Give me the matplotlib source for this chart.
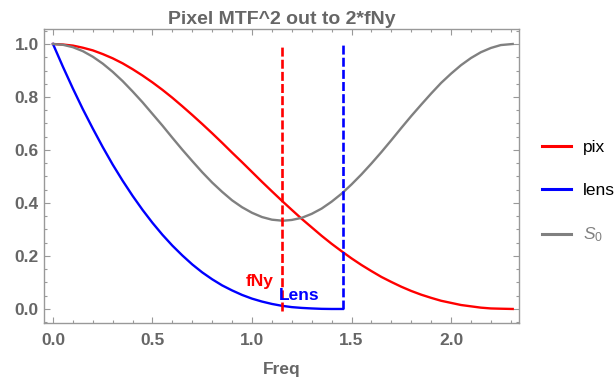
import matplotlib
matplotlib.use("Agg")
import matplotlib.pyplot as plt

plt.rcParams['font.family'] = ['Liberation Sans', 'DejaVu Sans']
plt.rcParams['mathtext.fontset'] = 'custom'
plt.rcParams['mathtext.rm'] = 'Liberation Sans'
plt.rcParams['mathtext.it'] = 'Liberation Sans:italic'

# values
freq = [0.0, 0.05, 0.1, 0.15, 0.2, 0.25, 0.3, 0.35, 0.4, 0.45, 0.5, 0.55, 0.6,
        0.65, 0.7, 0.75, 0.8, 0.85, 0.9, 0.95, 1.0, 1.05, 1.1, 1.155, 1.2, 1.25,
        1.3, 1.35, 1.4, 1.45, 1.5, 1.55, 1.6, 1.65, 1.7, 1.75, 1.8, 1.85, 1.9,
        1.95, 2.0, 2.05, 2.1, 2.15, 2.2, 2.25, 2.31]
pix = [1.0, 0.998, 0.994, 0.986, 0.976, 0.962, 0.946, 0.927, 0.905, 0.881, 0.855,
       0.827, 0.797, 0.765, 0.732, 0.698, 0.663, 0.627, 0.590, 0.554, 0.517, 0.480,
       0.444, 0.405, 0.374, 0.340, 0.308, 0.276, 0.246, 0.218, 0.191, 0.166, 0.143,
       0.121, 0.102, 0.084, 0.068, 0.054, 0.042, 0.031, 0.023, 0.015, 0.010, 0.005,
       0.002, 0.001, 0.0]
s0 = [1.0, 0.997, 0.988, 0.973, 0.952, 0.926, 0.895, 0.860, 0.821, 0.780, 0.736,
      0.692, 0.646, 0.601, 0.558, 0.516, 0.477, 0.442, 0.410, 0.384, 0.363, 0.347,
      0.337, 0.333, 0.336, 0.344, 0.359, 0.379, 0.405, 0.435, 0.470, 0.508, 0.549,
      0.592, 0.637, 0.683, 0.728, 0.771, 0.813, 0.853, 0.888, 0.920, 0.947, 0.969,
      0.985, 0.996, 1.0]

lens_freq = [0.0, 0.05, 0.1, 0.15, 0.2, 0.25, 0.3, 0.35, 0.4, 0.45, 0.5, 0.55, 0.6,
             0.65, 0.7, 0.75, 0.8, 0.85, 0.9, 0.95, 1.0, 1.05, 1.1, 1.15, 1.2, 1.25,
             1.3, 1.35, 1.4, 1.456]
lens = [1.0, 0.914, 0.832, 0.754, 0.681, 0.611, 0.545, 0.484, 0.427, 0.374, 0.325,
        0.280, 0.239, 0.202, 0.168, 0.138, 0.112, 0.089, 0.070, 0.053, 0.039, 0.028,
        0.019, 0.012, 0.007, 0.004, 0.002, 0.0005, 0.0, 0.0]

f_ny = 1.153
f_lens = 1.456

GRAY_TXT = '#666666'
FRAME = '#999999'

fig = plt.figure(figsize=(6.16, 3.85), dpi=100)
ax = fig.add_axes([0.0719, 0.1603, 0.843 - 0.0719, 0.9239 - 0.1603])

l_pix, = ax.plot(freq, pix, color='#ff0000', lw=1.7, label='pix')
l_lens, = ax.plot(lens_freq, lens, color='#0000ff', lw=1.7, label='lens')
l_s0, = ax.plot(freq, s0, color='#808080', lw=1.7, label='$S_0$')

ax.plot([f_ny, f_ny], [-0.008, 1.0], color='#ff0000', lw=1.9,
        linestyle=(0, (3.4, 1.2)), zorder=3)
ax.plot([f_lens, f_lens], [0.0, 1.0], color='#0000ff', lw=1.9,
        linestyle=(0, (3.4, 1.2)), zorder=3)

ax.text(1.111, 0.104, 'fNy', color='#ff0000', fontsize=12.5, fontweight='bold',
        ha='right', va='center', zorder=4)
ax.text(1.136, 0.049, 'Lens', color='#0000ff', fontsize=12.5, fontweight='bold',
        ha='left', va='center', zorder=4)

ax.set_xlim(-0.0437, 2.343)
ax.set_ylim(-0.054, 1.0555)
ax.set_xticks([0.0, 0.5, 1.0, 1.5, 2.0])
ax.set_xticks([i / 10 for i in range(0, 24)], minor=True)
ax.set_yticks([0.0, 0.2, 0.4, 0.6, 0.8, 1.0])
ax.set_yticks([i / 20 for i in range(-1, 22)], minor=True)
ax.set_xticklabels(['0.0', '0.5', '1.0', '1.5', '2.0'])
ax.set_yticklabels(['0.0', '0.2', '0.4', '0.6', '0.8', '1.0'])

for sp in ax.spines.values():
    sp.set_color(FRAME)
    sp.set_linewidth(1.0)
ax.tick_params(which='both', direction='in', top=True, right=True, color=FRAME,
               width=0.8, labelcolor=GRAY_TXT, labelsize=12.5)
ax.tick_params(which='major', length=4)
ax.tick_params(which='minor', length=2.2)
ax.tick_params(axis='x', pad=7)
ax.tick_params(axis='y', pad=4)
for lab in ax.get_xticklabels() + ax.get_yticklabels():
    lab.set_fontweight('bold')

ax.set_title('Pixel MTF^2 out to 2*fNy', color=GRAY_TXT, fontsize=14,
             fontweight='bold', pad=4)
ax.set_xlabel('Freq', color=GRAY_TXT, fontsize=12.5, fontweight='bold', labelpad=10)

leg = ax.legend(handles=[l_pix, l_lens, l_s0], loc='center left',
                bbox_to_anchor=(542 / 616, 1 - 192 / 385),
                bbox_transform=fig.transFigure, frameon=False, fontsize=12.5,
                handlelength=1.67, handletextpad=0.69, labelspacing=1.6,
                borderpad=0, borderaxespad=0)
for h in leg.get_lines():
    h.set_linewidth(2.2)
leg.get_texts()[2].set_color('#808080')

fig.savefig('out.png', dpi=100)
